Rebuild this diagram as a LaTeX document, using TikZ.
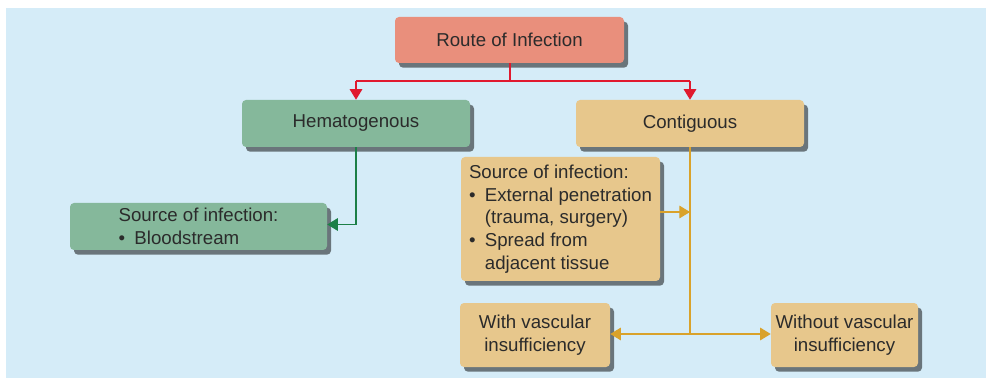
\documentclass[tikz,border=0pt]{standalone}
\usepackage{fontspec}
\setmainfont{Liberation Sans}
\usepackage{tikz}
\usetikzlibrary{arrows.meta,shadows,calc}

\definecolor{panelblue}{HTML}{D5ECF8}
\definecolor{routefill}{HTML}{E98F7C}
\definecolor{hemafill}{HTML}{85B89B}
\definecolor{contfill}{HTML}{E7C78C}
\definecolor{routeline}{HTML}{E0192E}
\definecolor{hemaline}{HTML}{1C7F47}
\definecolor{contline}{HTML}{D9A22B}
\definecolor{boxtext}{HTML}{2B2B2B}

% bullet line with hanging indent for the continuation
\newcommand{\bul}{\makebox[0.85em][l]{\textbullet}}
\newcommand{\cont}{\hspace*{0.85em}}

\tikzset{
  box/.style={rounded corners=3pt, text=boxtext, align=center,
    font=\fontsize{14}{17}\selectfont,
    drop shadow={shadow xshift=3pt, shadow yshift=-3.5pt, fill=black, opacity=.5}},
  routebox/.style={box, fill=routefill},
  hemabox/.style={box, fill=hemafill},
  contbox/.style={box, fill=contfill},
  link/.style={line width=0.9pt},
  tip/.style={link, -{Triangle[width=9.5pt,length=8pt]}}
}

\begin{document}
\begin{tikzpicture}[x=0.75pt,y=-0.75pt]
    \useasboundingbox (0,0) rectangle (986,381);
    \fill[panelblue] (6,8) rectangle (986,378);

    % top of the tree
    \node[routebox, minimum width=171.75pt, minimum height=34.5pt] (route) at (509.5,40) {Route of Infection};
    \node[hemabox, minimum width=171pt, minimum height=35.25pt] (hema) at (356,123.5) {Hematogenous};
    \node[contbox, minimum width=171pt, minimum height=35.25pt] (cont) at (690,123.5) {Contiguous};

    % sources of infection
    \node[hemabox, minimum width=192.75pt, minimum height=35.25pt, align=left] (blood) at (198.5,226.5)
      {Source of infection:\\\bul Bloodstream};
    \node[contbox, minimum width=149.25pt, minimum height=93pt, align=left] (spread) at (560.5,219)
      {Source of infection:\\\bul External penetration\\\cont(trauma, surgery)\\\bul Spread from\\\cont adjacent tissue};

    % the two kinds of contiguous spread
    \node[contbox, minimum width=112.5pt, minimum height=48pt] (withvi) at (535,335) {With vascular\\insufficiency};
    \node[contbox, minimum width=110.25pt, minimum height=48pt] (withoutvi) at (844.5,335) {Without vascular\\insufficiency};

    % red split below the root
    \coordinate (split) at (510,81);
    \draw[routeline, link] (hema.north |- split) -- (cont.north |- split);
    \draw[routeline, line width=1.2pt] (split) -- (route.south -| split);
    \draw[routeline, tip] (hema.north |- split) -- (hema.north);
    \draw[routeline, tip] (cont.north |- split) -- (cont.north);

    % green branch
    \draw[hemaline, tip] (hema.south) |- ($(blood.east)+(0,-2)$);

    % tan branch
    \coordinate (trunk) at (690,334);
    \coordinate (join) at (690,212);
    \draw[contline, link] (cont.south) -- (trunk);
    \draw[contline, tip] (spread.east |- join) -- (join);
    \draw[contline, tip] (trunk) -- (withvi.east |- trunk);
    \draw[contline, tip] (trunk) -- (withoutvi.west |- trunk);
\end{tikzpicture}
\end{document}
